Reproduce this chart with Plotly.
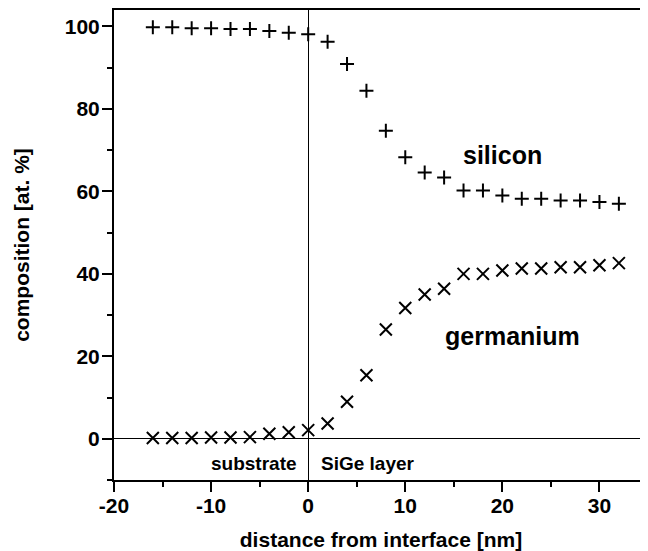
import plotly.graph_objects as go

distance = [-16, -14, -12, -10, -8, -6, -4, -2, 0, 2, 4, 6, 8, 10, 12, 14, 16, 18, 20, 22, 24, 26, 28, 30, 32]
silicon = [99.8, 99.8, 99.6, 99.6, 99.4, 99.4, 98.9, 98.5, 98.1, 96.3, 90.9, 84.4, 74.7, 68.3, 64.6, 63.4,
           60.2, 60.2, 59.0, 58.2, 58.2, 57.8, 57.8, 57.4, 57.0]
germanium = [0.2, 0.2, 0.2, 0.3, 0.3, 0.4, 1.2, 1.6, 2.1, 3.7, 9.0, 15.4, 26.5, 31.7, 35.0, 36.4,
             40.0, 40.0, 40.8, 41.3, 41.3, 41.6, 41.6, 42.1, 42.6]

x_tickvals = [-20, -10, 0, 10, 20, 30]
x_ticktext = ["-20", "-10", "0", "10", "20", "30"]
y_tickvals = [0, 20, 40, 60, 80, 100]
y_ticktext = ["0", "20", "40", "60", "80", "100"]

FONT = "Liberation Sans, Arial, sans-serif"

fig = go.Figure()
fig.add_trace(go.Scatter(
    x=distance, y=silicon, mode="markers", name="silicon",
    marker=dict(symbol="cross-thin", size=10, color="black",
                line=dict(color="black", width=2)),
))
fig.add_trace(go.Scatter(
    x=distance, y=germanium, mode="markers", name="germanium",
    marker=dict(symbol="x-thin", size=12, color="black",
                line=dict(color="black", width=2)),
))

annots = [
    dict(x=20.0, y=68.8, text="silicon", size=25, xanchor="center"),
    dict(x=21.0, y=25.0, text="germanium", size=25, xanchor="center"),
    dict(x=-0.9, y=-5.9, text="substrate", size=19, xanchor="right"),
    dict(x=1.1, y=-5.9, text="SiGe layer", size=19, xanchor="left"),
]
for a in annots:
    fig.add_annotation(x=a["x"], y=a["y"], text=a["text"], showarrow=False,
                       xanchor=a["xanchor"], yanchor="middle",
                       font=dict(family=FONT, size=a["size"], color="black", weight="bold"))

axis_common = dict(
    showline=True, linecolor="black", linewidth=2, mirror=True,
    ticks="outside", ticklen=10, tickwidth=2, tickcolor="black",
    showgrid=False, zeroline=True, zerolinecolor="black", zerolinewidth=1,
    automargin=False,
    tickfont=dict(family=FONT, size=21, color="black", weight="bold"),
)

fig.update_xaxes(
    range=[-20, 35], tickmode="array", tickvals=x_tickvals, ticktext=x_ticktext,
    ticklabelstandoff=-4,
    minor=dict(dtick=5, tick0=0, ticks="outside", ticklen=5, tickwidth=2, tickcolor="black"),
    title=dict(text="distance from interface [nm]", standoff=25,
               font=dict(family=FONT, size=21, color="black", weight="bold")),
    **axis_common,
)
fig.update_yaxes(
    range=[-10, 104], tickmode="array", tickvals=y_tickvals, ticktext=y_ticktext,
    ticklabelstandoff=-2,
    minor=dict(dtick=10, tick0=0, ticks="outside", ticklen=5, tickwidth=2, tickcolor="black"),
    title=dict(text="composition [at. %]", standoff=29,
               font=dict(family=FONT, size=21, color="black", weight="bold")),
    **axis_common,
)

# the page body has an 8px default margin, so the figure is sized to fit the window
fig.update_layout(
    width=640, height=543,
    margin=dict(l=106, r=0, t=2, b=71),
    plot_bgcolor="white", paper_bgcolor="white",
    showlegend=False,
)

fig.write_html("out.html")
